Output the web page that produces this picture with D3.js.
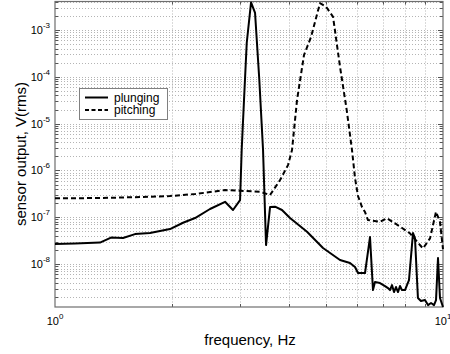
<!DOCTYPE html>
<html><head><meta charset="utf-8">
<script src="https://cdn.jsdelivr.net/npm/d3@7/dist/d3.min.js"></script>
<style>
html,body{margin:0;padding:0;background:#fff;}
svg{display:block;font-family:"Liberation Sans",Arial,sans-serif;}
</style></head>
<body>
<svg id="chart" width="450" height="354"></svg>
<script>
// ---- data (frequency in Hz, output in V rms) ----
const plungingFreq = [1.000,1.126,1.306,1.394,1.497,1.608,1.757,1.979,2.138,2.296,2.509,2.743,2.876,2.999,3.028,3.070,3.120,3.201,3.278,3.362,3.437,3.499,3.583,3.690,3.846,4.034,4.462,4.906,5.427,5.758,5.932,6.039,6.295,6.484,6.600,6.679,6.880,7.088,7.215,7.301,7.388,7.477,7.566,7.656,7.748,7.840,7.981,8.076,8.172,8.369,8.468,8.618,8.774,8.985,9.150,9.314,9.480,9.594,9.708,9.823,10.0];
const plungingVal  = [2.67e-8,2.74e-8,2.88e-8,3.68e-8,3.60e-8,4.37e-8,4.59e-8,5.60e-8,7.63e-8,9.61e-8,1.50e-7,2.14e-7,1.43e-7,2.33e-7,2.73e-6,3.19e-5,5.27e-4,3.87e-3,2.31e-3,8.55e-5,2.73e-6,2.55e-8,1.65e-7,1.68e-7,1.43e-7,9.61e-8,4.90e-8,2.20e-8,1.22e-8,1.05e-8,8.63e-9,6.43e-9,6.43e-9,3.78e-8,2.78e-9,4.12e-9,3.93e-9,3.39e-9,3.07e-9,2.78e-9,3.56e-9,2.52e-9,3.23e-9,2.52e-9,3.39e-9,2.78e-9,2.78e-9,3.56e-9,4.55e-9,4.59e-8,3.60e-8,1.88e-9,1.62e-9,1.70e-9,1.33e-9,1.47e-9,1.33e-9,1.70e-9,1.34e-8,1.88e-9,1.21e-9];
const pitchingFreq = [1.000,1.306,1.757,1.979,2.296,2.743,2.999,3.376,3.583,3.802,3.986,4.082,4.205,4.383,4.569,4.819,4.995,5.207,5.427,5.647,5.827,5.932,6.039,6.184,6.295,6.407,6.880,7.173,7.748,8.221,8.722,8.880,9.259,9.594,9.823,10.0];
const pitchingVal  = [2.54e-7,2.57e-7,2.74e-7,2.84e-7,3.13e-7,3.81e-7,3.68e-7,3.51e-7,2.98e-7,6.23e-7,1.30e-6,2.73e-6,3.19e-5,2.92e-4,7.08e-4,3.73e-3,3.15e-3,1.92e-3,1.64e-4,1.95e-5,2.73e-6,6.89e-7,2.84e-7,1.65e-7,1.29e-7,8.71e-8,8.01e-8,9.47e-8,6.32e-8,4.53e-8,2.55e-8,2.16e-8,3.54e-8,1.31e-7,7.89e-8,2.09e-8];
const xTickExps = [0, 1];
const yTickExps = [-8, -7, -6, -5, -4, -3];
const seriesNames = ["plunging", "pitching"];
const xLabel = "frequency, Hz";
const yLabel = "sensor output, V(rms)";
const xDomain = [1, 10];
const yDomain = [1.21e-9, 4.06e-3];

// ---- layout ----
const L = 55, R = 443, T = 1.5, B = 307;
const svg = d3.select("#chart");
const x = d3.scaleLog().domain(xDomain).range([L, R]);
const y = d3.scaleLog().domain(yDomain).range([B, T]);

// grid values
const xGrid = [];
for (let k = 2; k <= 9; k++) xGrid.push(k);
const yGrid = [];
for (let e = -10; e <= -2; e++) for (let k = 1; k <= 9; k++) {
  const v = k * Math.pow(10, e);
  if (v > yDomain[0] && v < yDomain[1]) yGrid.push(v);
}

const grid = svg.append("g").attr("stroke", "#b4b4b4").attr("stroke-width", 1).attr("stroke-dasharray", "1,2");
grid.selectAll(".gx").data(xGrid).join("line")
  .attr("x1", d => Math.round(x(d)) + 0.5).attr("x2", d => Math.round(x(d)) + 0.5)
  .attr("y1", T).attr("y2", B);
grid.selectAll(".gy").data(yGrid).join("line")
  .attr("y1", d => Math.round(y(d)) + 0.5).attr("y2", d => Math.round(y(d)) + 0.5)
  .attr("x1", L).attr("x2", R);

// ticks (inward, on all four sides)
const tk = svg.append("g").attr("stroke", "#555").attr("stroke-width", 1);
yGrid.forEach(v => {
  const isMajor = Math.abs(Math.log10(v) - Math.round(Math.log10(v))) < 1e-9;
  const len = isMajor ? 5 : 3;
  const yy = Math.round(y(v)) + 0.5;
  tk.append("line").attr("x1", L).attr("x2", L + len).attr("y1", yy).attr("y2", yy);
  tk.append("line").attr("x1", R - len).attr("x2", R).attr("y1", yy).attr("y2", yy);
});
xGrid.forEach(v => {
  const xx = Math.round(x(v)) + 0.5;
  tk.append("line").attr("x1", xx).attr("x2", xx).attr("y1", B).attr("y2", B - 3);
  tk.append("line").attr("x1", xx).attr("x2", xx).attr("y1", T).attr("y2", T + 3);
});

// axis box
svg.append("rect").attr("x", L).attr("y", T).attr("width", R - L).attr("height", B - T)
  .attr("fill", "none").attr("stroke", "#6e6e6e").attr("stroke-width", 1.2);

// lines
const line = d3.line().x(d => x(d[0])).y(d => y(d[1]));
const plData = plungingFreq.map((f, i) => [f, plungingVal[i]]);
const piData = pitchingFreq.map((f, i) => [f, pitchingVal[i]]);
svg.append("path").datum(piData).attr("d", line).attr("fill", "none")
  .attr("stroke", "#000").attr("stroke-width", 2).attr("stroke-dasharray", "5,3").attr("stroke-linejoin", "round");
svg.append("path").datum(plData).attr("d", line).attr("fill", "none")
  .attr("stroke", "#000").attr("stroke-width", 2).attr("stroke-linejoin", "round");

// tick labels
const yl = svg.append("g").attr("font-size", 11).attr("fill", "#000");
yTickExps.forEach(e => {
  const t = yl.append("text").attr("x", 50).attr("y", y(Math.pow(10, e)) + 4).attr("text-anchor", "end");
  t.append("tspan").text("10");
  t.append("tspan").attr("dy", -6).attr("font-size", 8).text(String(e).replace("-", "-"));
});
const xl = svg.append("g").attr("font-size", 11).attr("fill", "#000");
xTickExps.forEach(e => {
  const t = xl.append("text").attr("x", x(Math.pow(10, e))).attr("y", 325).attr("text-anchor", "middle");
  t.append("tspan").text("10");
  t.append("tspan").attr("dy", -6).attr("font-size", 8).text(String(e));
});

// axis labels
svg.append("text").attr("x", 250).attr("y", 345).attr("text-anchor", "middle")
  .attr("font-size", 15).text(xLabel);
svg.append("text").attr("transform", "translate(26,154) rotate(-90)").attr("text-anchor", "middle")
  .attr("font-size", 15).text(yLabel);

// legend
const lg = svg.append("g");
lg.append("rect").attr("x", 79.5).attr("y", 88.5).attr("width", 88).attr("height", 31)
  .attr("fill", "#fff").attr("stroke", "#808080").attr("stroke-width", 1);
const rows = [{name: seriesNames[0], dash: null, yy: 97.5}, {name: seriesNames[1], dash: "4,2.5", yy: 110}];
rows.forEach(r => {
  const ln = lg.append("line").attr("x1", 85).attr("x2", 108).attr("y1", r.yy).attr("y2", r.yy)
    .attr("stroke", "#000").attr("stroke-width", 2);
  if (r.dash) ln.attr("stroke-dasharray", r.dash);
  lg.append("text").attr("x", 114).attr("y", r.yy + 4).attr("font-size", 12).text(r.name);
});
</script>
</body></html>
